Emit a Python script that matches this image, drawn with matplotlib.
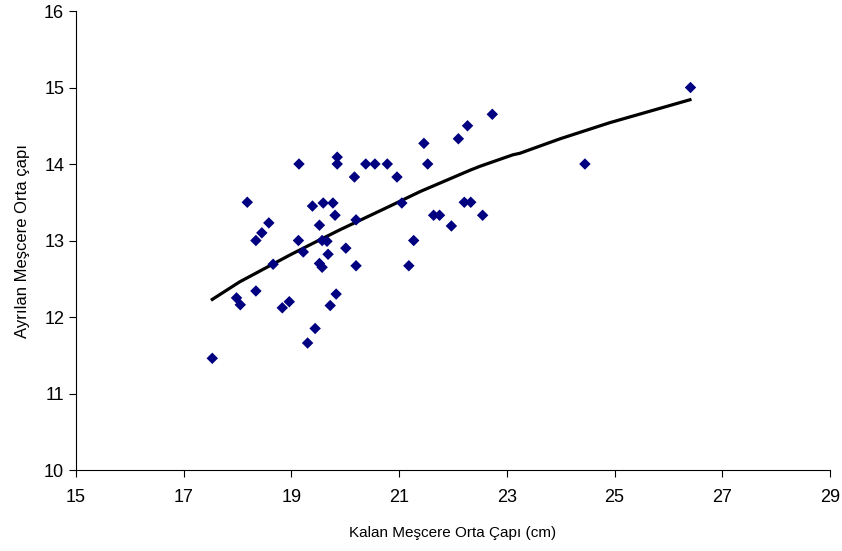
import matplotlib
matplotlib.use('Agg')
import matplotlib.pyplot as plt

# Kalan meşcere orta çapı (cm) / ayrılan meşcere orta çapı
kalan_cap = [17.53, 17.98, 18.05, 18.18, 18.34, 18.34, 18.45, 18.58, 18.66, 18.83,
             18.96, 19.14, 19.13, 19.22, 19.30, 19.39, 19.44, 19.52, 19.52, 19.57,
             19.57, 19.59, 19.66, 19.68, 19.72, 19.77, 19.81, 19.83, 19.85, 19.85,
             20.01, 20.17, 20.20, 20.20, 20.38, 20.55, 20.78, 20.96, 21.05, 21.18,
             21.27, 21.46, 21.53, 21.64, 21.75, 21.97, 22.10, 22.21, 22.27, 22.33,
             22.55, 22.73, 24.45, 26.41]
ayrilan_cap = [11.46, 12.25, 12.16, 13.50, 12.34, 13.00, 13.10, 13.23, 12.69, 12.12,
               12.20, 14.00, 13.00, 12.85, 11.66, 13.45, 11.85, 13.20, 12.70, 13.00,
               12.65, 13.49, 12.99, 12.82, 12.15, 13.49, 13.33, 12.30, 14.09, 14.00,
               12.90, 13.83, 12.67, 13.27, 14.00, 14.00, 14.00, 13.83, 13.49, 12.67,
               13.00, 14.27, 14.00, 13.33, 13.33, 13.19, 14.33, 13.50, 14.50, 13.50,
               13.33, 14.65, 14.00, 15.00]

# trend çizgisi (resimden okunan noktalar)
trend_x = [17.53, 18.04, 18.97, 19.53, 19.90, 20.83, 21.39, 22.32, 22.50,
           23.11, 23.24, 23.99, 24.91, 26.40]
trend_y = [12.23, 12.46, 12.81, 13.01, 13.14, 13.45, 13.64, 13.92, 13.97,
           14.12, 14.14, 14.33, 14.54, 14.84]

x_ticks = [15, 17, 19, 21, 23, 25, 27, 29]
y_ticks = [10, 11, 12, 13, 14, 15, 16]

plt.rcParams['font.family'] = ['Liberation Sans', 'DejaVu Sans']

fig = plt.figure(figsize=(8.42, 5.51), dpi=100)
ax = fig.add_axes([0.0903, 0.147, 0.8954, 0.833])

ax.scatter(kalan_cap, ayrilan_cap, marker='D', s=34, color='#000080',
           edgecolors='none', zorder=3)
ax.plot(trend_x, trend_y, color='black', linewidth=2.3, zorder=2)

ax.set_xlim(15, 29)
ax.set_ylim(10, 16)
ax.set_xticks(x_ticks)
ax.set_yticks(y_ticks)

ax.spines['top'].set_visible(False)
ax.spines['right'].set_visible(False)
for sp in ('left', 'bottom'):
    ax.spines[sp].set_linewidth(0.8)

ax.tick_params(axis='both', direction='out', length=5, width=0.8, labelsize=13)
ax.tick_params(axis='x', pad=9)

ax.set_xlabel('Kalan Meşcere Orta Çapı (cm)', fontsize=11, labelpad=14)
ax.set_ylabel('Ayrılan Meşcere Orta çapı', fontsize=12, labelpad=10)

plt.savefig('out.png', dpi=100)
plt.close()
